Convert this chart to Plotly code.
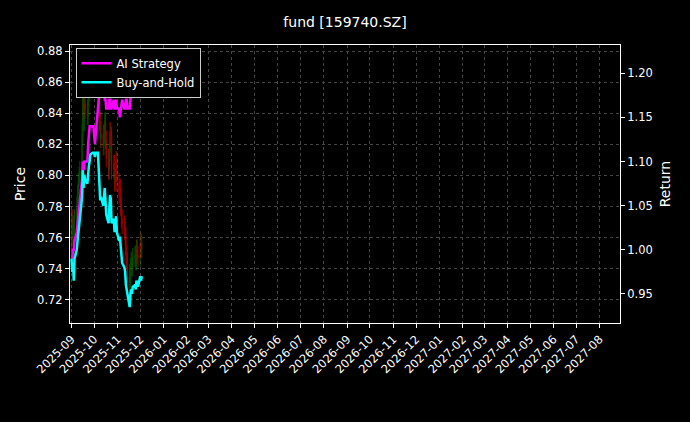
import pandas as pd
import plotly.graph_objects as go

# buy-and-hold return and AI strategy return, one value per trading day
bh_return = [
    0.99, 0.975, 0.985, 0.965, 0.99, 1.0, 1.01, 1.02,
    1.025, 1.03, 1.06, 1.09, 1.07, 1.085, 1.08, 1.075,
    1.09, 1.095, 1.1, 1.108, 1.11, 1.11, 1.11, 1.105,
    1.11, 1.11, 1.09, 1.07, 1.056, 1.06, 1.05, 1.06,
    1.07, 1.055, 1.04, 1.03, 1.045, 1.062, 1.058, 1.03,
    1.035, 1.02, 1.03, 1.038, 1.02, 1.01, 1.015, 1.0,
    0.99, 0.985, 0.98, 0.975, 0.96, 0.955, 0.945, 0.935,
    0.95, 0.955, 0.95, 0.958, 0.96, 0.955, 0.965, 0.96,
    0.958, 0.97, 0.965, 0.97,
]
ai_return = [
    0.99, 0.99, 1.0, 1.0, 1.01, 1.02, 1.03, 1.04,
    1.05, 1.06, 1.08, 1.1, 1.09, 1.1, 1.1, 1.1,
    1.12, 1.13, 1.14, 1.14, 1.14, 1.14, 1.13, 1.12,
    1.13, 1.16, 1.17, 1.18, 1.19, 1.19, 1.18, 1.18,
    1.17, 1.17, 1.16, 1.16, 1.17, 1.17, 1.16, 1.16,
    1.17, 1.16, 1.16, 1.17, 1.16, 1.16, 1.15, 1.16,
    1.16, 1.17, 1.16, 1.16, 1.17, 1.17, 1.16, 1.16,
    1.17, 1.18, 1.19, 1.2, 1.21, 1.21, 1.22, 1.22,
    1.21, 1.22, 1.22, 1.22,
]
close = [0.78 * r for r in bh_return]
open_ = [0.755] + close[:-1]
high = [max(o, c) + 0.006 for o, c in zip(open_, close)]
low = [min(o, c) - 0.006 for o, c in zip(open_, close)]
dates = pd.bdate_range("2025-09-01", periods=len(close))

fig = go.Figure()
fig.add_trace(go.Candlestick(
    x=dates, open=open_, high=high, low=low, close=close,
    increasing=dict(line=dict(color="green", width=1), fillcolor="green"),
    decreasing=dict(line=dict(color="red", width=1), fillcolor="red"),
    opacity=0.6, showlegend=False,
))
fig.add_trace(go.Scatter(x=dates, y=ai_return, mode="lines", name="AI Strategy",
                         line=dict(color="magenta", width=2.5), yaxis="y2"))
fig.add_trace(go.Scatter(x=dates, y=bh_return, mode="lines", name="Buy-and-Hold",
                         line=dict(color="cyan", width=2.5), yaxis="y2"))

grid = dict(showgrid=True, gridcolor="#444", griddash="dot", gridwidth=0.5,
            showline=True, linecolor="white", mirror=True, ticks="outside",
            tickcolor="white", ticklen=4, zeroline=False)
fig.update_layout(
    width=690, height=422,
    paper_bgcolor="black", plot_bgcolor="black",
    font=dict(family="DejaVu Sans", color="white", size=11.5),
    title=dict(text="fund [159740.SZ]", x=0.5, y=0.96, font=dict(size=14)),
    margin=dict(l=70, r=70, t=45, b=99),
    xaxis=dict(**grid, type="date", range=["2025-08-30", "2027-08-28"],
               dtick="M1", tick0="2025-09-01", tickformat="%Y-%m",
               tickangle=-45, rangeslider=dict(visible=False)),
    yaxis=dict(**grid, title=dict(text="Price", standoff=8), range=[0.705, 0.884],
               dtick=0.02, tickformat=".2f"),
    yaxis2=dict(overlaying="y", side="right", title=dict(text="Return", standoff=8),
                range=[0.917, 1.232], dtick=0.05, tickformat=".2f", showgrid=False,
                ticks="outside", tickcolor="white", ticklen=4, zeroline=False),
    legend=dict(x=0.01, y=0.99, xanchor="left", yanchor="top",
                bgcolor="black", bordercolor="#ccc", borderwidth=1),
)
fig.write_html(
    "out.html",
    config={"displayModeBar": False},
    post_script="document.body.style.margin='0';document.body.style.background='black';",
)
